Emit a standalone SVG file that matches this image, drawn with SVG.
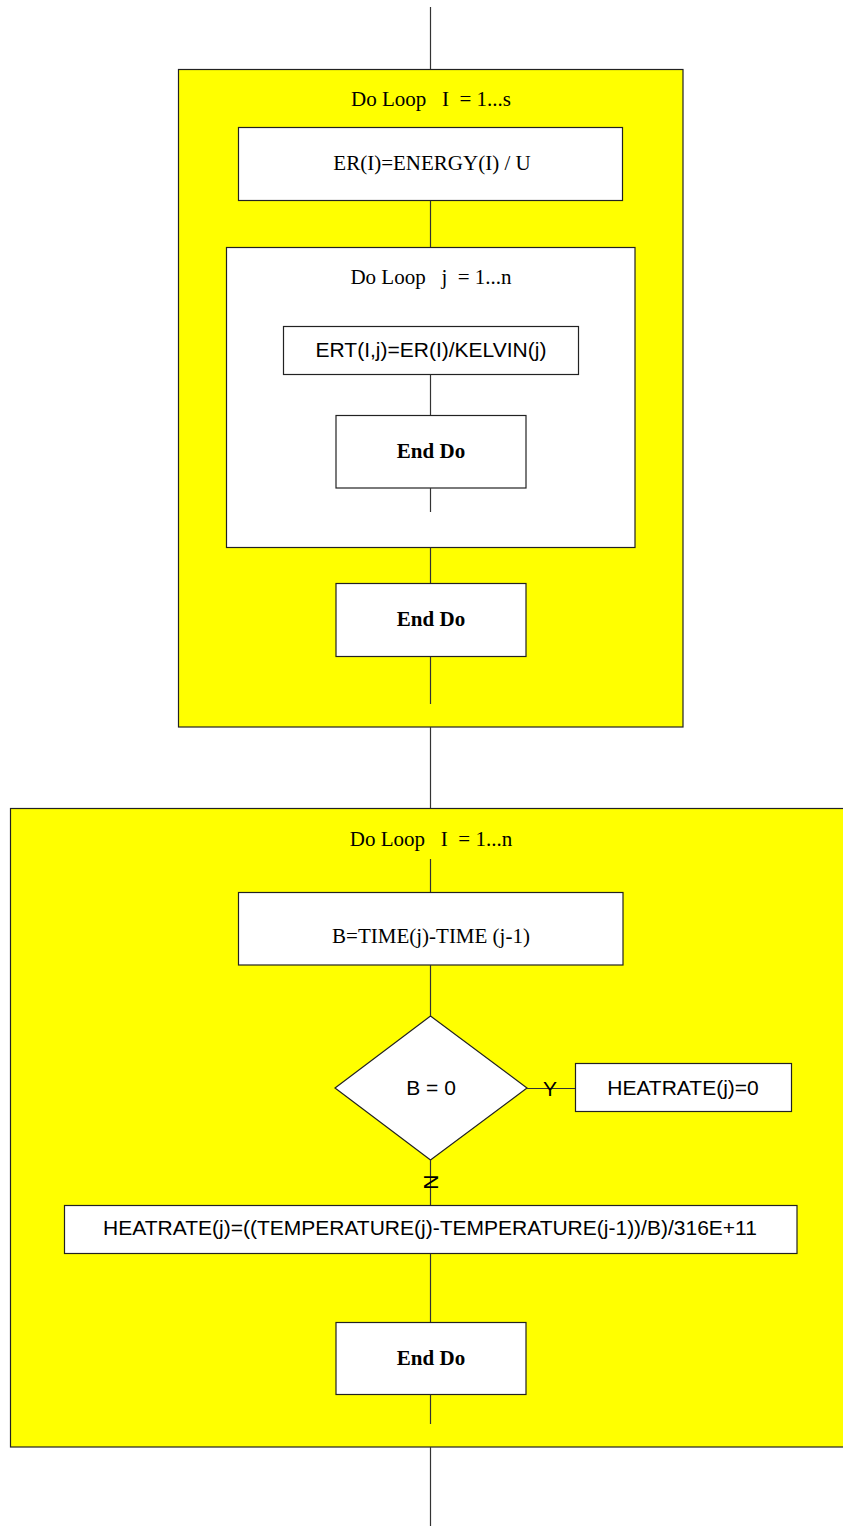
<svg xmlns="http://www.w3.org/2000/svg" width="843" height="1526" viewBox="0 0 843 1526">
<style>
.loop{fill:#ffff00;stroke:#222;stroke-width:1.2}
.box{fill:#fff;stroke:#222;stroke-width:1.2}
.ln{stroke:#333;stroke-width:1.2;fill:none}
.serif{font-family:"Liberation Serif","Times New Roman",serif;font-size:21px;fill:#000;text-anchor:middle;white-space:pre}
.bold{font-family:"Liberation Serif","Times New Roman",serif;font-size:21px;font-weight:bold;fill:#000;text-anchor:middle}
.sans{font-family:"Liberation Sans",Arial,sans-serif;font-size:21px;fill:#000;text-anchor:middle}
</style>
<rect width="843" height="1526" fill="#fff"/>
<g id="loop1">
<rect class="loop" x="178.5" y="69.5" width="504.5" height="657.5"/>
<text class="serif" x="431" y="106" xml:space="preserve">Do Loop   I  = 1...s</text>
</g>
<g id="er">
<rect class="box" x="238.5" y="127.5" width="384" height="73"/>
<text class="serif" x="432" y="170">ER(I)=ENERGY(I) / U</text>
</g>
<g id="loop2">
<rect class="box" x="226.5" y="247.5" width="408.5" height="300"/>
<text class="serif" x="431" y="284" xml:space="preserve">Do Loop   j  = 1...n</text>
</g>
<g id="ert">
<rect class="box" x="283.5" y="326.5" width="295" height="48"/>
<text class="sans" x="431" y="357">ERT(I,j)=ER(I)/KELVIN(j)</text>
</g>
<g id="enddo1">
<rect class="box" x="336" y="415.5" width="190" height="72.5"/>
<text class="bold" x="431" y="458">End Do</text>
</g>
<g id="enddo2">
<rect class="box" x="336" y="583.5" width="190" height="73"/>
<text class="bold" x="431" y="626">End Do</text>
</g>
<g id="loop3">
<rect class="loop" x="10.5" y="808.5" width="840" height="638.5"/>
<text class="serif" x="431" y="846" xml:space="preserve">Do Loop   I  = 1...n</text>
</g>
<g id="bcalc">
<rect class="box" x="238.5" y="892.5" width="384.5" height="72.5"/>
<text class="serif" x="431" y="943">B=TIME(j)-TIME (j-1)</text>
</g>
<g id="decision">
<polygon class="box" points="430.5,1016 527,1088 430.5,1160 335,1088"/>
<text class="sans" x="431" y="1095">B = 0</text>
</g>
<g id="heat0">
<rect class="box" x="575.5" y="1063.5" width="216" height="48"/>
<text class="sans" x="683" y="1095">HEATRATE(j)=0</text>
</g>
<g id="heatrate">
<rect class="box" x="64.5" y="1205.5" width="732.5" height="48"/>
<text class="sans" x="430" y="1235">HEATRATE(j)=((TEMPERATURE(j)-TEMPERATURE(j-1))/B)/316E+11</text>
</g>
<g id="enddo3">
<rect class="box" x="336" y="1322.5" width="190" height="72"/>
<text class="bold" x="431" y="1365">End Do</text>
</g>
<g id="connectors">
<line class="ln" x1="430.5" y1="7" x2="430.5" y2="69"/>
<line class="ln" x1="430.5" y1="200.5" x2="430.5" y2="247"/>
<line class="ln" x1="430.5" y1="374.5" x2="430.5" y2="415"/>
<line class="ln" x1="430.5" y1="488" x2="430.5" y2="512"/>
<line class="ln" x1="430.5" y1="547.5" x2="430.5" y2="583"/>
<line class="ln" x1="430.5" y1="656.5" x2="430.5" y2="704"/>
<line class="ln" x1="430.5" y1="727" x2="430.5" y2="808"/>
<line class="ln" x1="430.5" y1="859" x2="430.5" y2="892"/>
<line class="ln" x1="430.5" y1="965" x2="430.5" y2="1016"/>
<line class="ln" x1="527" y1="1088.5" x2="575" y2="1088.5"/>
<text class="sans" x="550" y="1096">Y</text>
<line class="ln" x1="430.5" y1="1160" x2="430.5" y2="1205"/>
<text class="sans" transform="translate(431,1182) rotate(90)" y="7">N</text>
<line class="ln" x1="430.5" y1="1253.5" x2="430.5" y2="1322"/>
<line class="ln" x1="430.5" y1="1394.5" x2="430.5" y2="1424"/>
<line class="ln" x1="430.5" y1="1447" x2="430.5" y2="1526"/>
</g>
</svg>
